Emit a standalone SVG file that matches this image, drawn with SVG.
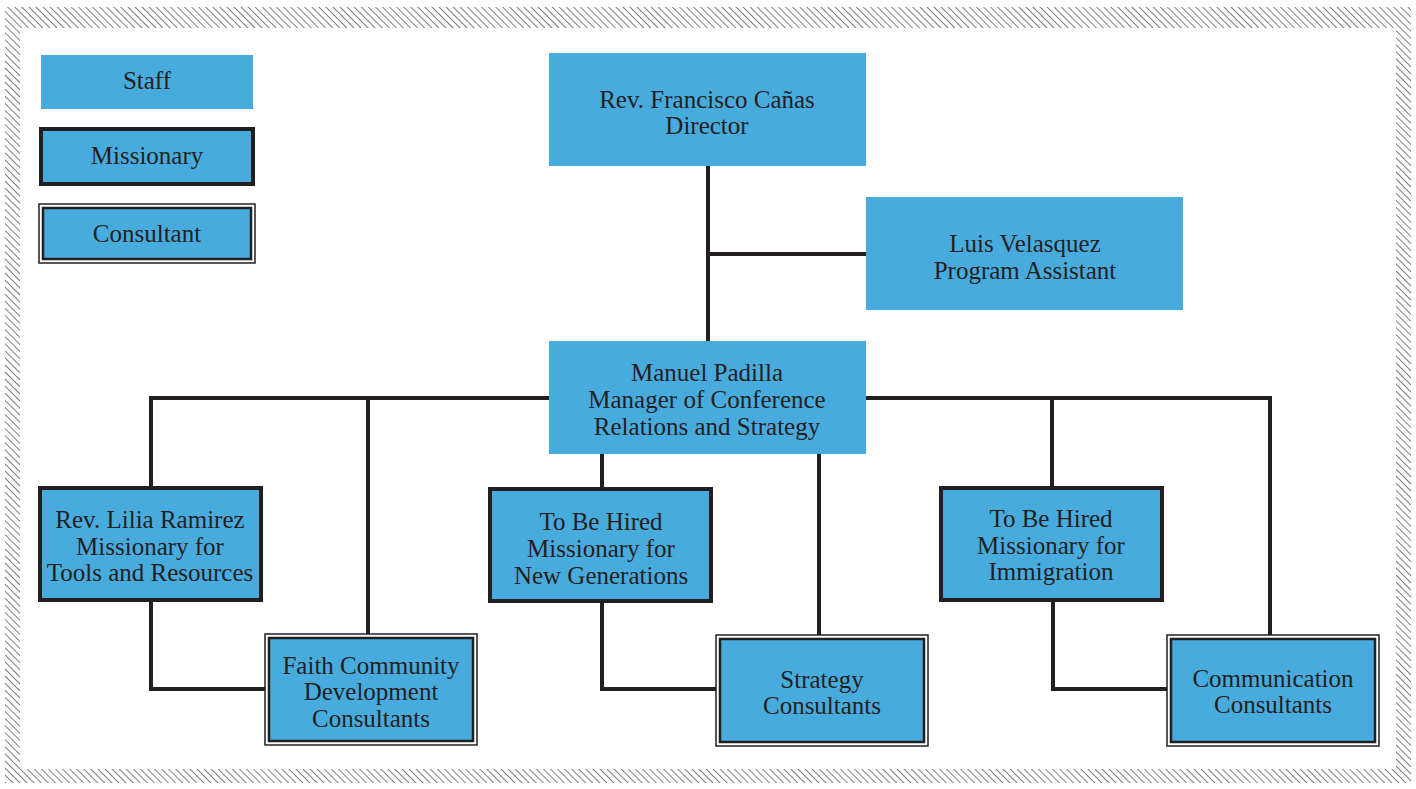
<svg xmlns="http://www.w3.org/2000/svg" width="1416" height="789" viewBox="0 0 1416 789">
<defs>
<pattern id="hatch" width="5" height="5" patternUnits="userSpaceOnUse" patternTransform="rotate(-45)">
<rect width="5" height="5" fill="#ffffff"/>
<line x1="0" y1="0" x2="0" y2="5" stroke="#7f7f7f" stroke-width="2"/>
</pattern>
</defs>
<style>
.box{fill:#48abde;}
.miss{fill:#48abde;stroke:#231f20;stroke-width:4;}
.couter{fill:#ffffff;stroke:#231f20;stroke-width:1.5;}
.cinner{fill:#48abde;stroke:#231f20;stroke-width:2.5;}
.t{font-family:"Liberation Serif",serif;font-size:25px;fill:#231f20;text-anchor:middle;}
.conn{fill:none;stroke:#231f20;stroke-width:4;}
</style>
<path d="M5,7 H1411 V783 H5 Z M20,28 V769 H1396 V28 Z" fill="url(#hatch)" fill-rule="evenodd"/>
<g id="connectors">
<line class="conn" x1="708" y1="166" x2="708" y2="341"/>
<line class="conn" x1="708" y1="254" x2="866" y2="254"/>
<line class="conn" x1="149" y1="398" x2="1272" y2="398"/>
<line class="conn" x1="151" y1="396" x2="151" y2="487"/>
<line class="conn" x1="368" y1="396" x2="368" y2="635"/>
<line class="conn" x1="1052" y1="396" x2="1052" y2="487"/>
<line class="conn" x1="1270" y1="396" x2="1270" y2="635"/>
<line class="conn" x1="602" y1="454" x2="602" y2="488"/>
<line class="conn" x1="819" y1="454" x2="819" y2="635"/>
<polyline class="conn" points="151,601 151,689 265,689"/>
<polyline class="conn" points="602,602 602,689 716,689"/>
<polyline class="conn" points="1053,601 1053,689 1167,689"/>
</g>
<g id="legend-staff">
<rect class="box" x="41" y="55" width="212" height="54"/>
<text class="t" x="147" y="89">Staff</text>
</g>
<g id="legend-missionary">
<rect class="miss" x="41" y="129" width="212" height="55"/>
<text class="t" x="147" y="164">Missionary</text>
</g>
<g id="legend-consultant">
<rect class="couter" x="39" y="204" width="216" height="59"/>
<rect class="cinner" x="43" y="208" width="208" height="51"/>
<text class="t" x="147" y="242">Consultant</text>
</g>
<g id="director">
<rect class="box" x="549" y="53" width="317" height="113"/>
<text class="t" x="707" y="108">Rev. Francisco Cañas</text>
<text class="t" x="707" y="134">Director</text>
</g>
<g id="assistant">
<rect class="box" x="866" y="197" width="317" height="113"/>
<text class="t" x="1025" y="252">Luis Velasquez</text>
<text class="t" x="1025" y="279">Program Assistant</text>
</g>
<g id="manager">
<rect class="box" x="549" y="341" width="317" height="113"/>
<text class="t" x="707" y="381">Manuel Padilla</text>
<text class="t" x="707" y="408">Manager of Conference</text>
<text class="t" x="707" y="435">Relations and Strategy</text>
</g>
<g id="lilia">
<rect class="miss" x="40" y="488" width="221" height="112"/>
<text class="t" x="150" y="528">Rev. Lilia Ramirez</text>
<text class="t" x="150" y="555">Missionary for</text>
<text class="t" x="150" y="581">Tools and Resources</text>
</g>
<g id="newgen">
<rect class="miss" x="490" y="489" width="221" height="112"/>
<text class="t" x="601" y="530">To Be Hired</text>
<text class="t" x="601" y="557">Missionary for</text>
<text class="t" x="601" y="584">New Generations</text>
</g>
<g id="immigration">
<rect class="miss" x="941" y="488" width="221" height="112"/>
<text class="t" x="1051" y="527">To Be Hired</text>
<text class="t" x="1051" y="554">Missionary for</text>
<text class="t" x="1051" y="580">Immigration</text>
</g>
<g id="faith">
<rect class="couter" x="265" y="634" width="212" height="111"/>
<rect class="cinner" x="269" y="638" width="204" height="103"/>
<text class="t" x="371" y="674">Faith Community</text>
<text class="t" x="371" y="700">Development</text>
<text class="t" x="371" y="727">Consultants</text>
</g>
<g id="strategy">
<rect class="couter" x="716" y="635" width="212" height="111"/>
<rect class="cinner" x="720" y="639" width="204" height="103"/>
<text class="t" x="822" y="688">Strategy</text>
<text class="t" x="822" y="714">Consultants</text>
</g>
<g id="communication">
<rect class="couter" x="1167" y="635" width="212" height="111"/>
<rect class="cinner" x="1171" y="639" width="204" height="103"/>
<text class="t" x="1273" y="687">Communication</text>
<text class="t" x="1273" y="713">Consultants</text>
</g>
</svg>
